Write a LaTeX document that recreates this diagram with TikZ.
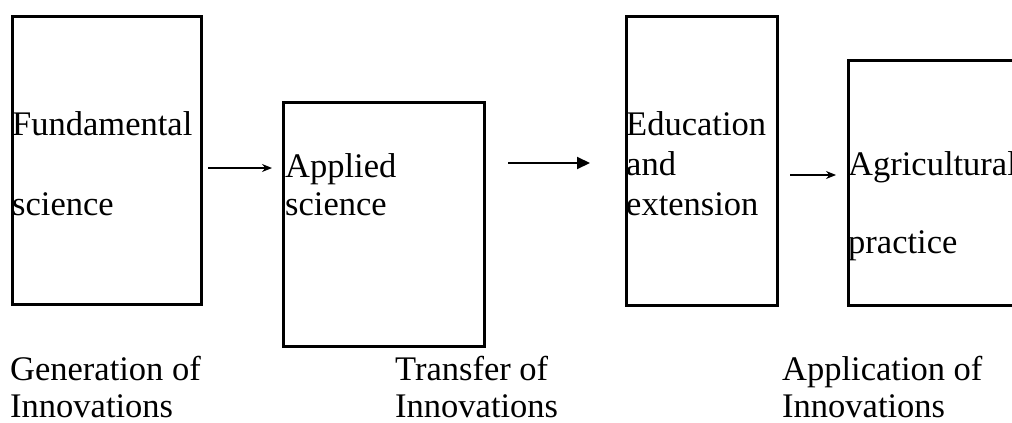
\documentclass[tikz,border=0pt]{standalone}
\usepackage{fontspec}
\setmainfont{Liberation Serif}
\usetikzlibrary{arrows.meta}
\begin{document}
\begin{tikzpicture}[x=1pt,y=-1pt,
  box/.style={draw=black,line width=3pt,rectangle,inner sep=0pt},
  lbl/.style={anchor=base west,inner sep=0pt,font=\fontsize{34.5}{40}\selectfont},
  thinarrow/.style={line width=1.3pt,-{Stealth[length=10pt,width=8pt]}},
  thickarrow/.style={line width=2pt,-{Triangle[length=13pt,width=12pt]}}]
\useasboundingbox (0,0) rectangle (1012,423);
\clip (0,0) rectangle (1012,423);
% boxes
\node[box,minimum width=189pt,minimum height=288pt] (b1) at (106.5,160) {};
\node[box,minimum width=201pt,minimum height=244pt] (b2) at (384,224) {};
\node[box,minimum width=151pt,minimum height=289pt] (b3) at (701.5,160.5) {};
\node[box,minimum width=254pt,minimum height=245pt] (b4) at (975,182.5) {};
% box texts
\node[lbl] (t1a) at (12,135) {Fundamental};
\node[lbl] (t1b) at (12,215) {science};
\node[lbl] (t2a) at (285,177) {Applied};
\node[lbl] (t2b) at (285,215) {science};
\node[lbl] (t3a) at (626,135) {Education};
\node[lbl] (t3b) at (626,175) {and};
\node[lbl] (t3c) at (626,215) {extension};
\node[lbl] (t4a) at (848,175) {Agricultural};
\node[lbl] (t4b) at (848,253) {practice};
% bottom labels
\node[lbl] (g1) at (10,380) {Generation of};
\node[lbl] (g2) at (10,417) {Innovations};
\node[lbl] (r1) at (395,380) {Transfer of};
\node[lbl] (r2) at (395,417) {Innovations};
\node[lbl] (p1) at (782,380) {Application of};
\node[lbl] (p2) at (782,417) {Innovations};
% arrows
\coordinate (a1s) at (208,168);
\coordinate (a1e) at (272,168);
\coordinate (a2s) at (508,163);
\coordinate (a2e) at (590,163);
\coordinate (a3s) at (790,175);
\coordinate (a3e) at (836,175);
\draw[thinarrow] (a1s) -- (a1e);
\draw[thickarrow] (a2s) -- (a2e);
\draw[thinarrow] (a3s) -- (a3e);
\end{tikzpicture}
\end{document}
